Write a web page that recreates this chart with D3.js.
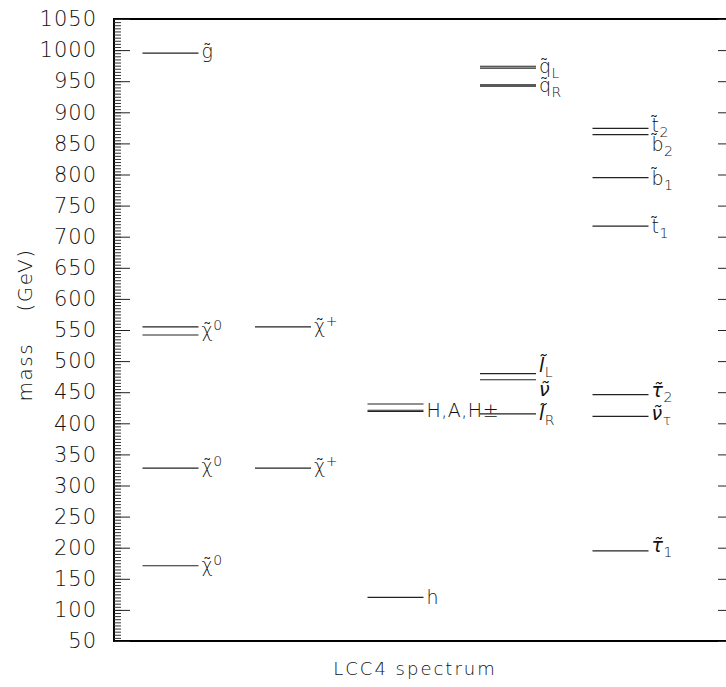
<!DOCTYPE html>
<html>
<head>
<meta charset="utf-8">
<script src="https://cdn.jsdelivr.net/npm/d3@7"></script>
<style>
  body { margin: 0; background: #fff; }
  text { font-family: "DejaVu Sans", sans-serif; fill: #111; }
</style>
</head>
<body>
<div id="chart"></div>
<script>
// spectrum columns, left to right
var columns = ["gaugino0", "chargino", "higgs", "sfermion", "thirdgen"];

// masses (GeV)
var gluinoMass      = [995];
var neutralinoMass  = [555, 542, 328, 171];
var charginoMass    = [555, 328];
var higgsMass       = [431, 421, 419, 120];
var squarkMass      = [974, 971, 944, 942];
var sleptonMass     = [480, 470, 415];
var thirdGenMass    = [874, 864, 795, 717, 446, 411, 195];

var yTicks = [50, 100, 150, 200, 250, 300, 350, 400, 450, 500, 550,
              600, 650, 700, 750, 800, 850, 900, 950, 1000, 1050];

// particle labels: column, anchor mass, text, subscript, superscript
var labelCol  = [0, 0, 0, 0, 1, 1, 2, 2, 3, 3, 3, 3, 3, 4, 4, 4, 4, 4, 4, 4];
var labelMass = [995, 548, 328, 171, 555, 328, 420, 120, 972, 943, 480, 470, 415,
                 874, 864, 795, 717, 446, 411, 195];
var labelText = ["g\u0303", "\u03c7\u0303", "\u03c7\u0303", "\u03c7\u0303", "\u03c7\u0303", "\u03c7\u0303",
                 "H,A,H\u00b1", "h", "q\u0303", "q\u0303", "l\u0303", "\u03bd\u0303", "l\u0303",
                 "t\u0303", "b\u0303", "b\u0303", "t\u0303", "\u03c4\u0303", "\u03bd\u0303", "\u03c4\u0303"];
var labelSub  = ["", "", "", "", "", "", "", "", "L", "R", "L", "", "R",
                 "2", "2", "1", "1", "2", "\u03c4", "1"];
var labelSup  = ["", "0", "0", "0", "+", "+", "", "", "", "", "", "", "",
                 "", "", "", "", "", "", ""];
// vertical nudge of each label (px, relative to its level)
var labelDy   = [5, 6, 5, 6, 6, 5, 6, 7, 5, 6, -2, 16, 6,
                 4, 16, 7, 7, 2, 4, 1];
var italic    = [0, 0, 0, 0, 0, 0, 0, 0, 0, 0, 1, 1, 1, 0, 0, 0, 0, 1, 1, 1];

var levels = [];
gluinoMass.forEach(function(m) { levels.push({col: 0, m: m}); });
neutralinoMass.forEach(function(m) { levels.push({col: 0, m: m}); });
charginoMass.forEach(function(m) { levels.push({col: 1, m: m}); });
higgsMass.forEach(function(m) { levels.push({col: 2, m: m}); });
squarkMass.forEach(function(m) { levels.push({col: 3, m: m}); });
sleptonMass.forEach(function(m) { levels.push({col: 3, m: m}); });
thirdGenMass.forEach(function(m) { levels.push({col: 4, m: m}); });

var W = 726, H = 687;
var frame = {left: 114, right: 733, top: 19, bottom: 641};
var lineLen = 56;

var svg = d3.select("#chart").append("svg")
  .attr("width", W).attr("height", H);

var y = d3.scaleLinear().domain([50, 1050]).range([frame.bottom, frame.top]);
var x = d3.scalePoint().domain(columns).range([142.5, 592.5]);

// frame
svg.append("rect")
  .attr("x", frame.left).attr("y", frame.top)
  .attr("width", frame.right - frame.left).attr("height", frame.bottom - frame.top)
  .attr("fill", "none").attr("stroke", "#000").attr("stroke-width", 2);

// minor ticks every 5 GeV
var minor = svg.append("g")
  .attr("transform", "translate(" + frame.left + ",0)")
  .call(d3.axisLeft(y).tickValues(d3.range(50, 1051, 5)).tickSize(-7).tickFormat(""));
minor.select(".domain").remove();
minor.selectAll("line").attr("stroke", "#333");

// major ticks + labels
var yAxis = svg.append("g")
  .attr("transform", "translate(" + frame.left + ",0)")
  .call(d3.axisLeft(y).tickValues(yTicks).tickSize(-16).tickPadding(17).tickFormat(d3.format("d")));
yAxis.select(".domain").remove();
yAxis.selectAll("line").attr("stroke", "#222");
yAxis.selectAll("text")
  .style("font-family", "DejaVu Sans")
  .style("font-size", "21px")
  .style("font-weight", "200")
  .style("letter-spacing", "1px")
  .attr("fill", "#222");

// right side ticks
var yRight = svg.append("g")
  .attr("transform", "translate(" + frame.right + ",0)")
  .call(d3.axisRight(y).tickValues(yTicks).tickSize(-15).tickFormat(""));
yRight.select(".domain").remove();
yRight.selectAll("line").attr("stroke", "#222");

// axis titles
svg.append("text")
  .attr("transform", "translate(32,325) rotate(-90)")
  .attr("text-anchor", "middle")
  .style("font-size", "20px")
  .style("font-weight", "200")
  .style("letter-spacing", "1.5px")
  .style("white-space", "pre")
  .text("mass    (GeV)");

svg.append("text")
  .attr("x", 415).attr("y", 675)
  .attr("text-anchor", "middle")
  .style("font-size", "18px")
  .style("font-weight", "200")
  .style("letter-spacing", "2px")
  .text("LCC4 spectrum");

// mass levels
svg.append("g").selectAll("line")
  .data(levels)
  .enter()
  .append("line")
  .attr("x1", function(d) { return x(columns[d.col]); })
  .attr("x2", function(d) { return x(columns[d.col]) + lineLen; })
  .attr("y1", function(d) { return y(d.m); })
  .attr("y2", function(d) { return y(d.m); })
  .attr("stroke", "#222")
  .attr("stroke-width", 1.2);

// particle labels
labelText.forEach(function(t, i) {
  var lx = x(columns[labelCol[i]]) + lineLen + 3;
  var ly = y(labelMass[i]) + labelDy[i];
  var txt = svg.append("text")
    .attr("x", lx).attr("y", ly)
    .style("font-size", "19px")
    .style("font-weight", "200")
    .style("letter-spacing", "0.5px");
  txt.append("tspan")
    .style("font-style", italic[i] ? "italic" : "normal")
    .text(t);
  if (labelSub[i]) {
    txt.append("tspan").attr("dy", 5)
      .style("font-size", "14px")
      .text(labelSub[i]);
  }
  if (labelSup[i]) {
    txt.append("tspan").attr("dy", -7)
      .style("font-size", "14px")
      .text(labelSup[i]);
  }
});
</script>
</body>
</html>
